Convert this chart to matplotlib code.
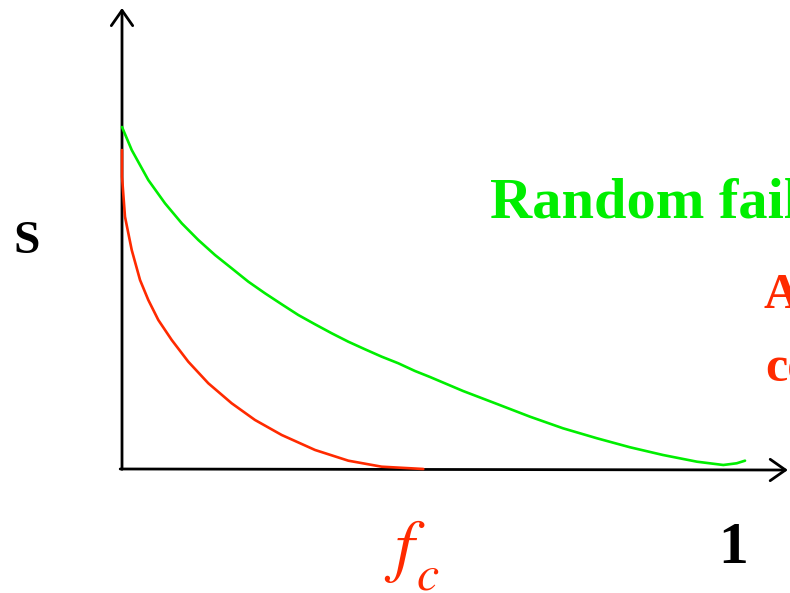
import matplotlib

matplotlib.use("Agg")
import matplotlib.pyplot as plt

plt.rcParams["mathtext.fontset"] = "stix"

# fraction of nodes removed (f) vs. relative size of the giant component (S)
random_f = [0.0, 0.0160, 0.0433, 0.0708, 0.0984, 0.1257, 0.1532, 0.1807, 0.2081,
            0.2356, 0.2631, 0.2904, 0.3180, 0.3455, 0.3728, 0.4003, 0.4278, 0.4552,
            0.4827, 0.5074, 0.5618, 0.6178, 0.6722, 0.7265, 0.7825, 0.8369, 0.8913,
            0.9473, 0.9906, 1.0127, 1.0264]
random_s = [1.0, 0.9327, 0.8450, 0.7769, 0.7184, 0.6696, 0.6257, 0.5868, 0.5477,
            0.5137, 0.4816, 0.4503, 0.4231, 0.3968, 0.3722, 0.3500, 0.3284, 0.3091,
            0.2865, 0.2690, 0.2281, 0.1901, 0.1529, 0.1190, 0.0898, 0.0635, 0.0409,
            0.0213, 0.0117, 0.0167, 0.0243]

attack_f = [0.0, 0.0, 0.0049, 0.0160, 0.0297, 0.0433, 0.0598, 0.0819, 0.1092,
            0.1422, 0.1807, 0.2191, 0.2631, 0.3180, 0.3728, 0.4278, 0.4964]
attack_s = [0.9327, 0.8547, 0.7377, 0.6404, 0.5526, 0.4942, 0.4357, 0.3772, 0.3137,
            0.2506, 0.1921, 0.1433, 0.0994, 0.0556, 0.0243, 0.0067, 0.0]

GREEN = "#00EE00"
RED = "#FF2A00"
W, H = 790, 593

fig = plt.figure(figsize=(W / 100, H / 100), dpi=100)
ax = fig.add_axes([0, 0, 1, 1])
ax.set_xlim(-0.201, 1.1005)
ax.set_ylim(-0.3626, 1.3713)
ax.axis("off")

# hand-drawn style axes with open arrow heads
arrow = dict(arrowstyle="->,head_length=0.5,head_width=0.35", color="black",
             lw=2.0, mutation_scale=22, shrinkA=0, shrinkB=0)
ax.annotate("", xy=(0, 1.348), xytext=(0, -0.001), arrowprops=arrow, zorder=1)
ax.annotate("", xy=(1.097, -0.003), xytext=(-0.003, 0), arrowprops=arrow, zorder=1)

ax.plot(random_f, random_s, color=GREEN, lw=1.9, solid_capstyle="round",
        solid_joinstyle="round", zorder=2)
ax.plot(attack_f, attack_s, color=RED, lw=1.9, solid_capstyle="round",
        solid_joinstyle="round", zorder=2)


def px_text(x, y, s, **kw):
    fig.text(x / W, 1 - y / H, s, va="baseline", ha="left", **kw)


serif = dict(family="Liberation Serif", weight="bold")
px_text(13, 253, "S", fontsize=34, **serif)
px_text(490, 217, "Random failure", fontsize=42, color=GREEN, **serif)
px_text(763, 308, "Attack", fontsize=36, color=RED, **serif)
px_text(765, 382, "co", fontsize=36, color=RED, **serif)
px_text(718, 563, "1", fontsize=43, **serif)

# critical fraction f_c, subscript set low like the slide lettering
px_text(384, 569, r"$f$", fontsize=50, color=RED)
px_text(416, 589, r"$c$", fontsize=36, color=RED)

fig.savefig("out.png", dpi=100)
